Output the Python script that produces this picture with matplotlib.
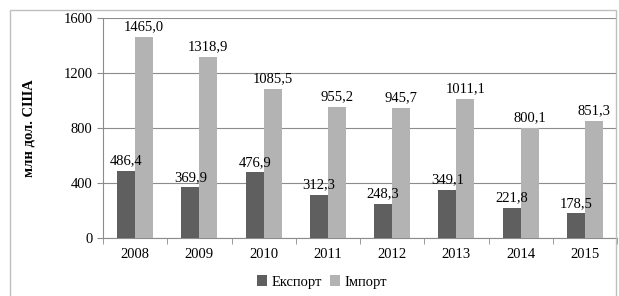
import numpy as np
import matplotlib.pyplot as plt
from matplotlib.patches import Rectangle

plt.rcParams['font.family'] = ['Liberation Serif', 'DejaVu Serif']

years = ['2008', '2009', '2010', '2011', '2012', '2013', '2014', '2015']
export = [486.4, 369.9, 476.9, 312.3, 248.3, 349.1, 221.8, 178.5]
imports = [1465.0, 1318.9, 1085.5, 955.2, 945.7, 1011.1, 800.1, 851.3]

fs = 10.5

fig = plt.figure(figsize=(6.19, 2.96), dpi=100)
# рамка діаграми
fig.patches.append(Rectangle((10 / 619, -0.05), 606 / 619, 1.05 - 10 / 296,
                             transform=fig.transFigure, fill=False,
                             edgecolor='#bfbfbf', lw=1))
ax = fig.add_axes([103 / 619, 1 - 238 / 296, 514 / 619, 220 / 296])

x = np.arange(len(years))
w = 0.28
b1 = ax.bar(x - w / 2, export, w, color='#5f5f5f', label='Експорт', zorder=3)
b2 = ax.bar(x + w / 2, imports, w, color='#b3b3b3', label='Імпорт', zorder=3)

for bars, vals in ((b1, export), (b2, imports)):
    for r, v in zip(bars, vals):
        ax.text(r.get_x() + r.get_width() / 2, v + 25, f'{v:.1f}'.replace('.', ','),
                ha='center', va='bottom', fontsize=fs)

ax.set_xlim(-0.5, len(years) - 0.5)
ax.set_ylim(0, 1600)
ax.set_yticks([0, 400, 800, 1200, 1600])
ax.yaxis.grid(True, color='#8c8c8c', lw=0.8, zorder=0)
ax.set_xticks(x)
ax.set_xticklabels(years)
ax.set_xticks(np.arange(-0.5, len(years)), minor=True)
ax.tick_params(axis='x', which='major', length=0, labelsize=fs, pad=7)
ax.tick_params(axis='x', which='minor', length=4, color='#8c8c8c')
ax.tick_params(axis='y', length=4, color='#8c8c8c', labelsize=fs)
for s in ('top', 'right'):
    ax.spines[s].set_visible(False)
for s in ('left', 'bottom'):
    ax.spines[s].set_color('#8c8c8c')

ax.set_ylabel('млн дол. США', fontweight='bold', fontsize=fs, labelpad=20)
ax.legend(loc='center', bbox_to_anchor=(0.426, -0.2), ncol=2, frameon=False,
          fontsize=fs, handlelength=0.7, handleheight=0.7, handletextpad=0.3,
          columnspacing=0.6)

fig.savefig('out.png', dpi=100)
